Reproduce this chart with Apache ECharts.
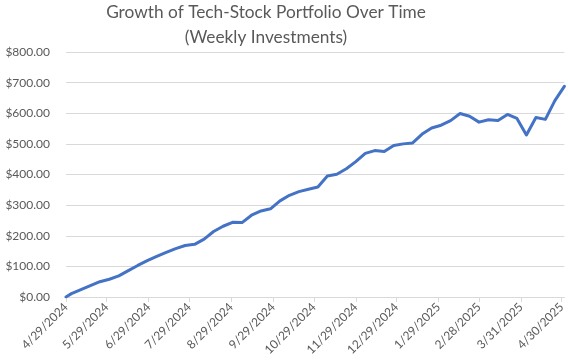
<!DOCTYPE html>
<html>
<head>
<meta charset="utf-8">
<script src="https://cdn.jsdelivr.net/npm/echarts@6/dist/echarts.min.js"></script>
<style>
html,body{margin:0;padding:0;background:#fff;}
#chart{width:568px;height:364px;}
</style>
</head>
<body>
<div id="chart"></div>
<script>
// Dates of the data points (start date, then weekly Fridays)
var pointDates = [
  '2024-04-29',
  '2024-05-03','2024-05-10','2024-05-17','2024-05-24','2024-05-31',
  '2024-06-07','2024-06-14','2024-06-21','2024-06-28',
  '2024-07-05','2024-07-12','2024-07-19','2024-07-26',
  '2024-08-02','2024-08-09','2024-08-16','2024-08-23','2024-08-30',
  '2024-09-06','2024-09-13','2024-09-20','2024-09-27',
  '2024-10-04','2024-10-11','2024-10-18','2024-10-25',
  '2024-11-01','2024-11-08','2024-11-15','2024-11-22','2024-11-29',
  '2024-12-06','2024-12-13','2024-12-20','2024-12-27',
  '2025-01-03','2025-01-10','2025-01-17','2025-01-24','2025-01-31',
  '2025-02-07','2025-02-14','2025-02-21','2025-02-28',
  '2025-03-07','2025-03-14','2025-03-21','2025-03-28',
  '2025-04-04','2025-04-11','2025-04-18','2025-04-25','2025-05-02'
];
// Portfolio value ($)
var portfolioValues = [
  0,
  11, 24, 37, 50, 58,
  69, 86, 103, 119,
  133, 146, 158, 168,
  172, 189, 214, 231, 244,
  243, 267, 281, 288,
  314, 332, 344, 352,
  359, 395, 401, 419, 442,
  469, 478, 475, 495,
  500, 503, 532, 552, 561,
  576, 599, 590, 571,
  579, 576, 596, 583,
  529, 586, 580, 641, 688
];
// X-axis tick labels
var xTickLabels = [
  '4/29/2024','5/29/2024','6/29/2024','7/29/2024','8/29/2024','9/29/2024',
  '10/29/2024','11/29/2024','12/29/2024','1/29/2025','2/28/2025','3/31/2025','4/30/2025'
];
var yMin = 0, yMax = 800, yStep = 100;

var DAY = 86400000;
function parseIso(s){ var p = s.split('-'); return Date.UTC(+p[0], +p[1]-1, +p[2]); }
function parseUs(s){ var p = s.split('/'); return Date.UTC(+p[2], +p[0]-1, +p[1]); }
var t0 = parseIso(pointDates[0]);
function dayOf(ts){ return Math.round((ts - t0) / DAY); }
function fmtUs(v){ var d = new Date(t0 + v * DAY); return (d.getUTCMonth()+1)+'/'+d.getUTCDate()+'/'+d.getUTCFullYear(); }

var seriesData = pointDates.map(function(d, i){ return [dayOf(parseIso(d)), portfolioValues[i]]; });
var tickValues = xTickLabels.map(function(s){ return dayOf(parseUs(s)); });

var FONT = 'Lato';
var chart = echarts.init(document.getElementById('chart'));
chart.setOption({
  animation: false,
  backgroundColor: '#ffffff',
  title: {
    text: 'Growth of Tech-Stock Portfolio Over Time\n(Weekly Investments)',
    left: 266, top: 0, padding: 0, textAlign: 'center',
    textStyle: { fontFamily: FONT, fontSize: 17.3, fontWeight: 'normal', color: '#595959', lineHeight: 25 }
  },
  grid: { left: 66, right: 3, top: 52, bottom: 67, containLabel: false },
  xAxis: {
    type: 'value',
    min: 0,
    max: seriesData[seriesData.length-1][0],
    axisLine: { show: true, onZero: false, lineStyle: { color: '#d9d9d9', width: 1 } },
    axisTick: { show: true, length: 5, lineStyle: { color: '#d9d9d9' }, customValues: tickValues },
    axisLabel: {
      customValues: tickValues, rotate: 45, margin: 8, hideOverlap: false,
      showMinLabel: true, showMaxLabel: true,
      formatter: fmtUs, color: '#595959', fontFamily: FONT, fontSize: 12
    },
    splitLine: { show: false }
  },
  yAxis: {
    type: 'value', min: yMin, max: yMax, interval: yStep,
    axisLine: { show: false }, axisTick: { show: false },
    axisLabel: {
      margin: 16, color: '#595959', fontFamily: FONT, fontSize: 12,
      formatter: function(v){ return '$' + v.toFixed(2); }
    },
    splitLine: { lineStyle: { color: '#d9d9d9', width: 1 } }
  },
  series: [{
    type: 'line', data: seriesData, showSymbol: false, smooth: false,
    lineStyle: { color: '#4472c4', width: 3, cap: 'round', join: 'round' }
  }]
});
</script>
</body>
</html>
